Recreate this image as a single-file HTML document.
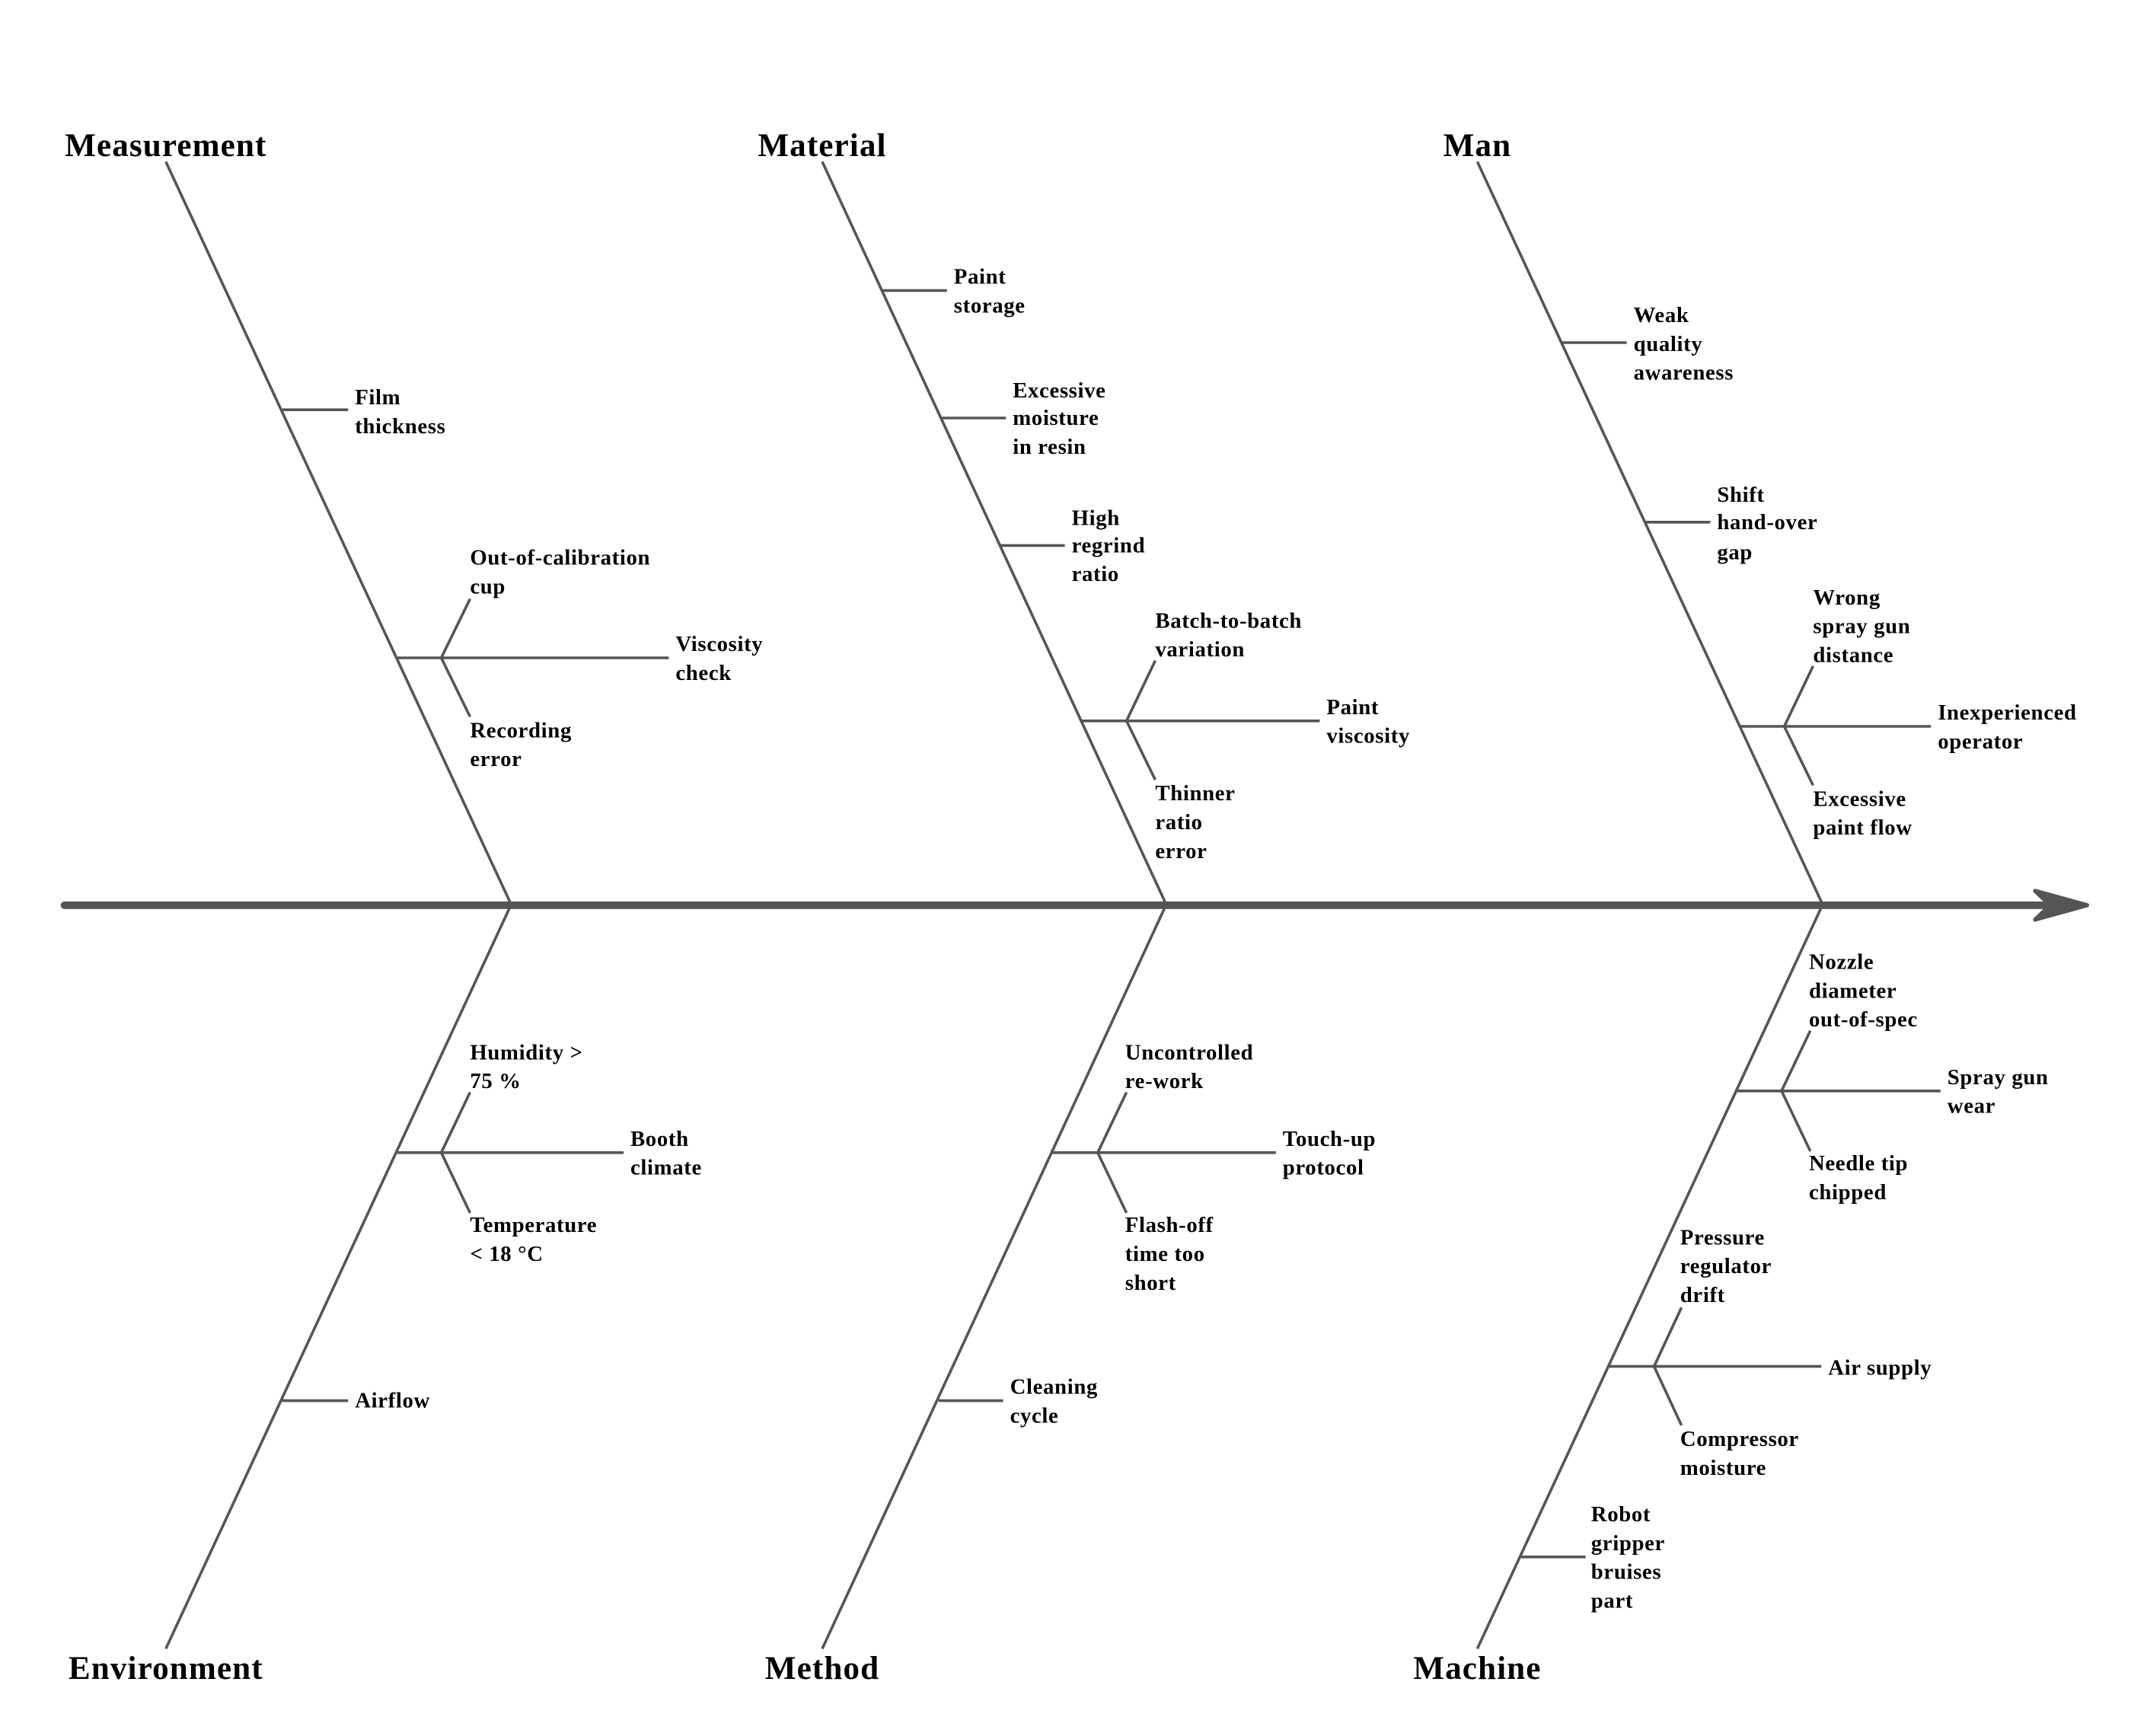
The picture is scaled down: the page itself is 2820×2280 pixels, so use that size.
<!DOCTYPE html>
<html><head><meta charset="utf-8"><style>
html,body{margin:0;padding:0;background:#fff}
svg{display:block}
text{font-family:"Liberation Serif",serif;font-weight:bold;fill:#000}
.s{font-size:16px;letter-spacing:0.35px}
.c{font-size:24px;letter-spacing:0.6px}
</style></head><body>
<svg width="2820" height="2280" viewBox="0 0 1566.67 1266.67" xmlns="http://www.w3.org/2000/svg">
<g stroke="#555" stroke-width="2" fill="none">
<line x1="47" y1="660.5" x2="1510" y2="660.5" stroke-width="5.5" stroke-linecap="round"/>
<polygon points="1485,650 1523,660.5 1485,671 1496,660.5" fill="#555" stroke-width="3" stroke-linejoin="round"/>
<line x1="121" y1="118" x2="373" y2="660"/>
<line x1="600" y1="118" x2="851" y2="660"/>
<line x1="1078" y1="118" x2="1330" y2="660"/>
<line x1="373" y1="660" x2="121" y2="1203"/>
<line x1="851" y1="660" x2="600" y2="1203"/>
<line x1="1330" y1="660" x2="1078" y2="1203"/>
<line x1="206" y1="299" x2="254" y2="299"/>
<line x1="290" y1="480" x2="488" y2="480"/>
<polyline points="343,437 322,480 343,523"/>
<line x1="643" y1="212" x2="691" y2="212"/>
<line x1="687" y1="305" x2="734" y2="305"/>
<line x1="730" y1="398" x2="777" y2="398"/>
<line x1="789" y1="526" x2="963" y2="526"/>
<polyline points="843,482 822,526 843,569"/>
<line x1="1139" y1="250" x2="1187" y2="250"/>
<line x1="1200" y1="381" x2="1248" y2="381"/>
<line x1="1269" y1="530" x2="1409" y2="530"/>
<polyline points="1323,486 1302,530 1323,573"/>
<line x1="290" y1="841" x2="455" y2="841"/>
<polyline points="343,797 322,841 343,885"/>
<line x1="206" y1="1022" x2="254" y2="1022"/>
<line x1="768" y1="841" x2="931" y2="841"/>
<polyline points="822,797 801,841 822,885"/>
<line x1="685" y1="1022" x2="732" y2="1022"/>
<line x1="1267" y1="796" x2="1416" y2="796"/>
<polyline points="1321,752 1300,796 1321,840"/>
<line x1="1174" y1="997" x2="1329" y2="997"/>
<polyline points="1227,954 1207,997 1227,1040"/>
<line x1="1110" y1="1136" x2="1157" y2="1136"/>
</g>
<g class="c" text-anchor="middle">
<text x="121" y="114">Measurement</text>
<text x="600" y="114">Material</text>
<text x="1078" y="114">Man</text>
<text x="121" y="1225">Environment</text>
<text x="600" y="1225">Method</text>
<text x="1078" y="1225">Machine</text>
</g>
<g class="s" dominant-baseline="central">
<text x="259" y="290">Film</text><text x="259" y="311">thickness</text>
<text x="343" y="407">Out-of-calibration</text><text x="343" y="428">cup</text>
<text x="493" y="470">Viscosity</text><text x="493" y="491">check</text>
<text x="343" y="533">Recording</text><text x="343" y="554">error</text>

<text x="696" y="202">Paint</text><text x="696" y="223">storage</text>
<text x="739" y="285">Excessive</text><text x="739" y="305">moisture</text><text x="739" y="326">in resin</text>
<text x="782" y="378">High</text><text x="782" y="398">regrind</text><text x="782" y="419">ratio</text>
<text x="843" y="453">Batch-to-batch</text><text x="843" y="474">variation</text>
<text x="968" y="516">Paint</text><text x="968" y="537">viscosity</text>
<text x="843" y="579">Thinner</text><text x="843" y="600">ratio</text><text x="843" y="621">error</text>

<text x="1192" y="230">Weak</text><text x="1192" y="251">quality</text><text x="1192" y="272">awareness</text>
<text x="1253" y="361">Shift</text><text x="1253" y="381">hand-over</text><text x="1253" y="403">gap</text>
<text x="1323" y="436">Wrong</text><text x="1323" y="457">spray gun</text><text x="1323" y="478">distance</text>
<text x="1414" y="520">Inexperienced</text><text x="1414" y="541">operator</text>
<text x="1323" y="583">Excessive</text><text x="1323" y="604">paint flow</text>

<text x="343" y="768">Humidity &gt;</text><text x="343" y="789">75 %</text>
<text x="460" y="831">Booth</text><text x="460" y="852">climate</text>
<text x="343" y="894">Temperature</text><text x="343" y="915">&lt; 18 °C</text>
<text x="259" y="1022">Airflow</text>

<text x="821" y="768">Uncontrolled</text><text x="821" y="789">re-work</text>
<text x="936" y="831">Touch-up</text><text x="936" y="852">protocol</text>
<text x="821" y="894">Flash-off</text><text x="821" y="915">time too</text><text x="821" y="936">short</text>
<text x="737" y="1012">Cleaning</text><text x="737" y="1033">cycle</text>

<text x="1320" y="702">Nozzle</text><text x="1320" y="723">diameter</text><text x="1320" y="744">out-of-spec</text>
<text x="1421" y="786">Spray gun</text><text x="1421" y="807">wear</text>
<text x="1320" y="849">Needle tip</text><text x="1320" y="870">chipped</text>
<text x="1226" y="903">Pressure</text><text x="1226" y="924">regulator</text><text x="1226" y="945">drift</text>
<text x="1334" y="998">Air supply</text>
<text x="1226" y="1050">Compressor</text><text x="1226" y="1071">moisture</text>
<text x="1161" y="1105">Robot</text><text x="1161" y="1126">gripper</text><text x="1161" y="1147">bruises</text><text x="1161" y="1168">part</text>
</g>
</svg>
</body></html>
